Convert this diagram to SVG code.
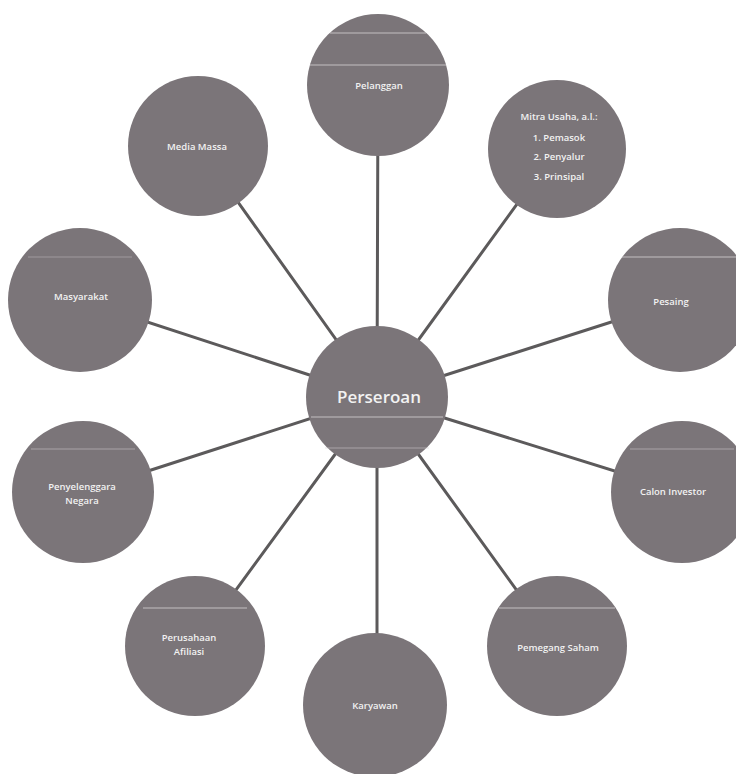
<svg xmlns="http://www.w3.org/2000/svg" width="736" height="774" viewBox="0 0 736 774">
<style>
  .bg{fill:#ffffff}
  .node circle{fill:#7b7579}
  .node text{fill:#f2f2f2;font-family:"Open Sans","Liberation Sans",sans-serif;font-size:9.5px;font-weight:600;text-anchor:middle}
  .node text.main{font-size:17px;font-weight:600}
  .streak{stroke:#d8d4d6;stroke-width:1.2;opacity:0.8}
  #connectors line{stroke:#5c5a5b;stroke-width:3;stroke-linecap:round}
</style>
<rect class="bg" x="0" y="0" width="736" height="774"/>
<g id="connectors">
  <line x1="377" y1="397" x2="378" y2="85"/>
  <line x1="377" y1="397" x2="557" y2="149"/>
  <line x1="377" y1="397" x2="198" y2="146"/>
  <line x1="377" y1="397" x2="80" y2="300"/>
  <line x1="377" y1="397" x2="680" y2="300"/>
  <line x1="377" y1="397" x2="83" y2="492"/>
  <line x1="377" y1="397" x2="682" y2="492"/>
  <line x1="377" y1="397" x2="195" y2="646"/>
  <line x1="377" y1="397" x2="557" y2="646"/>
  <line x1="377" y1="397" x2="377" y2="705"/>
</g>
<g id="pelanggan" class="node">
  <circle cx="378" cy="85" r="71"/>
  <line class="streak" x1="330" y1="33" x2="426" y2="33"/>
  <line class="streak" x1="310" y1="65" x2="446" y2="65"/>
  <text x="379" y="89">Pelanggan</text>
</g>
<g id="mitra-usaha" class="node">
  <circle cx="557" cy="149" r="69"/>
  <text x="559" y="120">Mitra Usaha, a.l.:</text>
  <text x="559" y="141">1. Pemasok</text>
  <text x="559" y="160">2. Penyalur</text>
  <text x="559" y="180">3. Prinsipal</text>
</g>
<g id="media-massa" class="node">
  <circle cx="198" cy="146" r="70"/>
  <text x="197" y="150">Media Massa</text>
</g>
<g id="masyarakat" class="node">
  <circle cx="80" cy="300" r="72"/>
  <line class="streak" x1="28" y1="257" x2="132" y2="257" style="opacity:0.4"/>
  <text x="81" y="300">Masyarakat</text>
</g>
<g id="pesaing" class="node">
  <circle cx="680" cy="300" r="72"/>
  <line class="streak" x1="622" y1="257" x2="736" y2="257"/>
  <text x="671" y="305">Pesaing</text>
</g>
<g id="perseroan" class="node">
  <circle cx="377" cy="397" r="71"/>
  <line class="streak" x1="311" y1="417" x2="443" y2="417"/>
  <line class="streak" x1="325" y1="448" x2="429" y2="448" style="opacity:0.5"/>
  <text class="main" x="379" y="403">Perseroan</text>
</g>
<g id="penyelenggara-negara" class="node">
  <circle cx="83" cy="492" r="71"/>
  <line class="streak" x1="31" y1="449" x2="135" y2="449" style="opacity:0.5"/>
  <text x="82" y="490">Penyelenggara</text>
  <text x="82" y="504">Negara</text>
</g>
<g id="calon-investor" class="node">
  <circle cx="682" cy="492" r="71"/>
  <line class="streak" x1="630" y1="449" x2="734" y2="449" style="opacity:0.5"/>
  <text x="673" y="495">Calon Investor</text>
</g>
<g id="perusahaan-afiliasi" class="node">
  <circle cx="195" cy="646" r="70"/>
  <line class="streak" x1="143" y1="608" x2="247" y2="608"/>
  <text x="189" y="641">Perusahaan</text>
  <text x="189" y="655">Afiliasi</text>
</g>
<g id="pemegang-saham" class="node">
  <circle cx="557" cy="646" r="70"/>
  <line class="streak" x1="499" y1="608" x2="615" y2="608"/>
  <text x="558" y="651">Pemegang Saham</text>
</g>
<g id="karyawan" class="node">
  <circle cx="375" cy="705" r="72"/>
  <text x="375" y="709">Karyawan</text>
</g>
</svg>
